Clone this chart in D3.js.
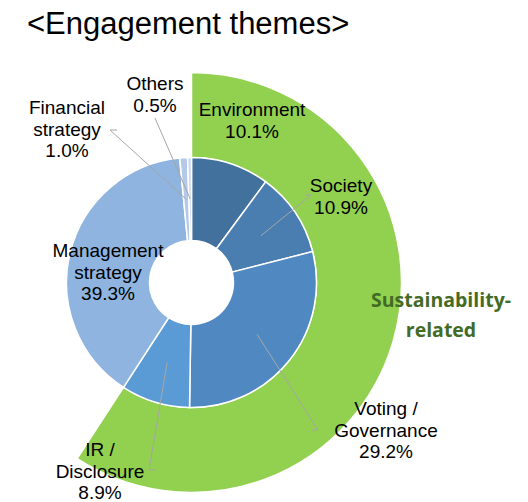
<!DOCTYPE html>
<html lang="en">
<head>
<meta charset="UTF-8">
<script src="https://d3js.org/d3.v7.min.js"></script>
<title>Engagement themes</title>
<style>
  body { margin: 0; background: #fff; }
  text { font-family: "Liberation Sans", Arial, sans-serif; }
  .leader { fill: none; stroke: #a6a6a6; stroke-width: 1px; }
</style>
</head>
<body>
<div id="chart"></div>
<script>
// Data
var themes = ["Environment", "Society", "Voting / Governance", "IR / Disclosure",
              "Management strategy", "Financial strategy", "Others"];
var shares = [10.1, 10.9, 29.2, 8.9, 39.3, 1.0, 0.5];
var sustainabilityThemes = ["Environment", "Society", "Voting / Governance", "IR / Disclosure"];
var labelLines = [
  ["Environment", "10.1%"],
  ["Society", "10.9%"],
  ["Voting /", "Governance", "29.2%"],
  ["IR /", "Disclosure", "8.9%"],
  ["Management", "strategy", "39.3%"],
  ["Financial", "strategy", "1.0%"],
  ["Others", "0.5%"]
];
var groupLabel = ["Sustainability-", "related"];

var colors = ["#41719c", "#4a7eb1", "#5089c2", "#5b9bd5", "#8eb4df", "#b4c9e8", "#c8d8ef"];

// Layout: label positions (center x, first baseline y) and leader end points
var labelPos = [
  { x: 252, y: 116, leader: null },
  { x: 341, y: 192, leader: [[305, 195], [311, 195]] },
  { x: 386, y: 415, leader: [[311, 430], [318, 430]] },
  { x: 100, y: 456, leader: [[155, 470], [149, 470]] },
  { x: 108, y: 257, leader: null },
  { x: 67,  y: 114, leader: [[117, 130], [110, 130]] },
  { x: 155, y: 90,  leader: [[155, 118]] }
];

var width = 528, height = 502;
var cx = 191.5, cy = 282.5;
var rHole = 42, rInner = 125, rOuter = 210;

var svg = d3.select("#chart").append("svg")
  .attr("width", width)
  .attr("height", height);

// Title
svg.append("text")
  .attr("x", 27)
  .attr("y", 34)
  .attr("font-size", 31)
  .attr("fill", "#000")
  .text("<Engagement themes>");

var g = svg.append("g").attr("transform", "translate(" + cx + "," + cy + ")");

var pie = d3.pie().sort(null).value(function (d) { return d; });
var arcs = pie(shares);
var total = d3.sum(shares);

// Outer green band covering sustainability-related themes
var susShare = d3.sum(themes.map(function (t, i) {
  return sustainabilityThemes.indexOf(t) >= 0 ? shares[i] : 0;
}));
var angle = d3.scaleLinear().domain([0, total]).range([0, 2 * Math.PI]);

g.append("path")
  .attr("d", d3.arc()({ innerRadius: rInner, outerRadius: rOuter, startAngle: 0, endAngle: angle(susShare) }))
  .attr("fill", "#92d050")
  .attr("stroke", "#fff")
  .attr("stroke-width", 1.5);

// Inner donut
var arc = d3.arc().innerRadius(rHole).outerRadius(rInner);
g.selectAll(".slice")
  .data(arcs)
  .enter().append("path")
  .attr("class", "slice")
  .attr("d", arc)
  .attr("fill", function (d, i) { return colors[i]; })
  .attr("stroke", "#fff")
  .attr("stroke-width", 1.5);

// Leader lines from slice centroids
svg.selectAll(".leader")
  .data(arcs.filter(function (d, i) { return labelPos[i].leader; }))
  .enter().append("path")
  .attr("class", "leader")
  .attr("d", function (d) {
    var i = d.index;
    var c = arc.centroid(d);
    var pts = [[c[0] + cx, c[1] + cy]].concat(labelPos[i].leader.slice().reverse());
    return d3.line()(pts);
  });

// Labels
var labels = svg.selectAll(".lbl")
  .data(labelLines)
  .enter().append("text")
  .attr("class", "lbl")
  .attr("text-anchor", "middle")
  .attr("font-size", 19)
  .attr("fill", "#000");

labels.each(function (lines, i) {
  var t = d3.select(this);
  lines.forEach(function (s, k) {
    t.append("tspan")
      .attr("x", labelPos[i].x)
      .attr("y", labelPos[i].y + k * 21.5)
      .text(s);
  });
});

// Group label
var gl = svg.append("text")
  .attr("text-anchor", "middle")
  .attr("font-size", 19.5)
  .attr("font-weight", "bold")
  .attr("fill", "#436b26")
  .style("font-family", "'Open Sans', sans-serif");
groupLabel.forEach(function (s, k) {
  gl.append("tspan")
    .attr("x", 441)
    .attr("y", 307 + k * 30)
    .text(s);
});
</script>
</body>
</html>
